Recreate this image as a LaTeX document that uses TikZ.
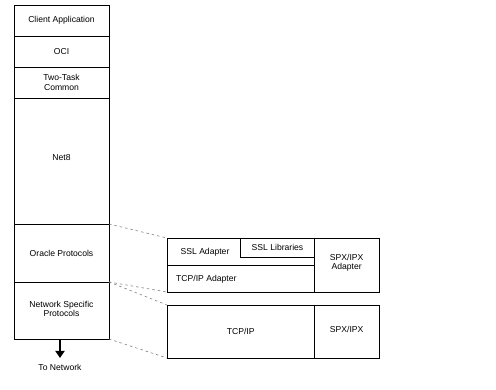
\documentclass[tikz,border=0pt]{standalone}
\usepackage{fontspec}
\setmainfont{Liberation Sans}
\usetikzlibrary{arrows.meta}
\begin{document}
\begin{tikzpicture}[x=1pt,y=-1pt,
  lbl/.style={font=\fontsize{8.6}{9.2}\selectfont, align=center, inner sep=0pt},
  box/.style={draw=black, line width=0.8pt},
  conn/.style={draw=gray, line width=0.6pt, dash pattern=on 2.5pt off 3pt}]
\useasboundingbox (0,0) rectangle (496,390);
% left column
\draw[box] (14,5) rectangle (109,339);
\draw[box] (14,36) -- (109,36);
\draw[box] (14,67) -- (109,67);
\draw[box] (14,98) -- (109,98);
\draw[box] (14,224) -- (109,224);
\draw[box] (14,282) -- (109,282);
\node[lbl] (client) at (61.5,20.5) {Client Application};
\node[lbl] (oci) at (61.5,51.5) {OCI};
\node[lbl] (ttc) at (61.5,82.5) {Two-Task\\Common};
\node[lbl] (net8) at (61.5,158) {Net8};
\node[lbl] (orap) at (61.5,253) {Oracle Protocols};
\node[lbl] (nsp) at (61.5,309) {Network Specific\\Protocols};
% arrow
\coordinate (abot) at (60,339);
\coordinate (atip) at (60,358);
\draw[line width=2.6pt, -{Triangle[length=7pt,width=9pt]}] (abot) -- (atip);
\node[lbl] (tonet) at (60,367) {To Network};
% upper right box
\draw[box] (167,238) rectangle (379,292);
\draw[box] (314.3,238) -- (314.3,292);
\draw[box] (167,265) -- (314.3,265);
\draw[box] (240.7,238) -- (240.7,257.3) -- (314.3,257.3);
\node[lbl] (ssla) at (205,252) {SSL Adapter};
\node[lbl] (ssll) at (277.5,247.5) {SSL Libraries};
\node[lbl, anchor=west] (tcpa) at (176,279) {TCP/IP Adapter};
\node[lbl] (spxa) at (346.7,263) {SPX/IPX\\Adapter};
% lower right box
\draw[box] (167,305) rectangle (379,358);
\draw[box] (314.3,305) -- (314.3,358);
\node[lbl] (tcp) at (240.7,331) {TCP/IP};
\node[lbl] (spx) at (346.7,329) {SPX/IPX};
% dashed connectors
\coordinate (o1) at (109,224);
\coordinate (o2) at (109,282);
\coordinate (o3) at (109,339);
\coordinate (u1) at (167,238);
\coordinate (u2) at (167,292);
\coordinate (l1) at (167,305);
\coordinate (l2) at (167,358);
\draw[conn] (o1) -- (u1);
\draw[conn] (o2) -- (u2);
\draw[conn] (o2) -- (l1);
\draw[conn] (o3) -- (l2);
\end{tikzpicture}
\end{document}
